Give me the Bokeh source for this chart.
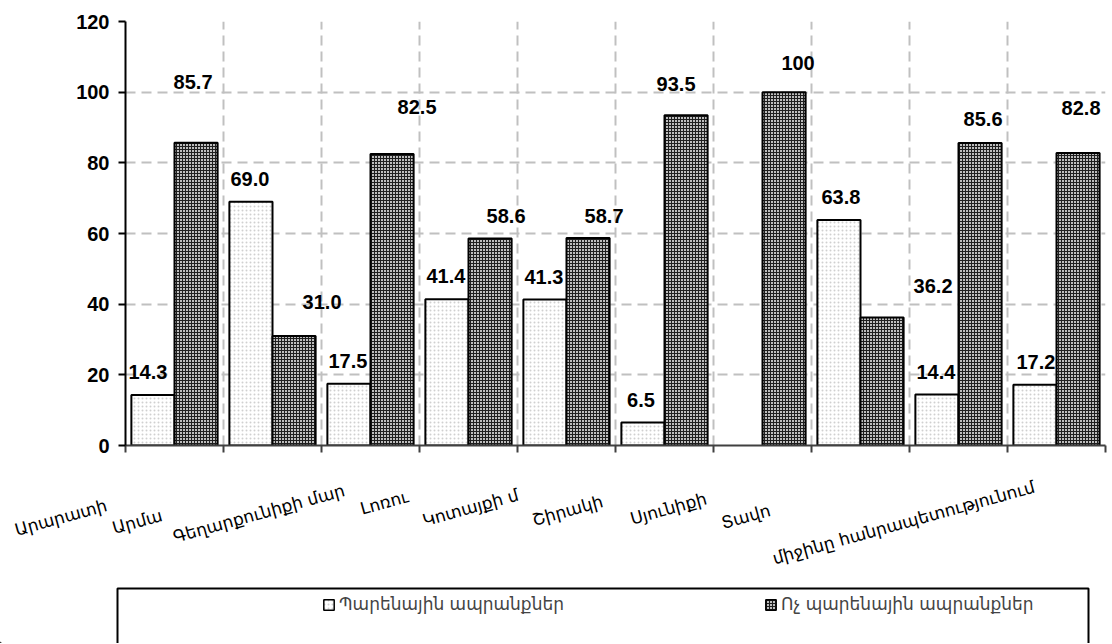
from bokeh.plotting import figure
from bokeh.models import (ColumnDataSource, FixedTicker, Legend, LegendItem, Range1d,
                          BoxAnnotation)
from bokeh.layouts import column
from bokeh.embed import file_html
from bokeh.resources import INLINE
from bokeh.core.properties import value

# ---------------- data ----------------
category_labels = ["Արարատի", "Արմա", "Գեղարքունիքի մար", "Լոռու", "Կոտայքի մ",
                   "Շիրակի", "Սյունիքի", "Տավո", "միջինը հանրապետությունում"]
series_names = ["Պարենային ապրանքներ", "Ոչ պարենային ապրանքներ"]
food = [14.3, 69.0, 17.5, 41.4, 41.3, 6.5, None, 63.8, 14.4, 17.2]
nonfood = [85.7, 31.0, 82.5, 58.6, 58.7, 93.5, 100, 36.2, 85.6, 82.8]
y_ticks = [0, 20, 40, 60, 80, 100, 120]

# ---------------- layout (positions / sizes only) ----------------
W = 1110
PX_LEFT, PX_RIGHT = 125, 1105          # plot frame edges on the page
H1 = 457                               # main figure height
H2 = 186                               # strip with category labels + legend box
n_slots = len(nonfood)
unit = (PX_RIGHT - PX_LEFT) / n_slots
slot_centers = [i + 0.5 for i in range(n_slots)]
dodge = 0.22
bar_w = 0.44
# category label placement: x in slot units, y = px below the strip top
cat_x = [-0.66, 0.12, 1.36, 2.64, 3.52, 4.51, 5.54, 6.33, 7.94]
cat_d = [60, 64, 56, 45, 50, 53, 51, 59, 65]
# value-label pixel offsets
food_dx = [-5, -1, -1, -1, -1, -2, 0, 2, -1, 1]
food_dy = [-23] * n_slots
nonfood_dx = [-3, 28, 25, 16, 16, -10, 14, 51, 3, 3]
nonfood_dy = [-61, -34, -47, -22, -22, -31, -29, -32, -24, -45]


def fmt(v):
    return "100" if v == 100 else f"{v:.1f}"


food_idx = [i for i, v in enumerate(food) if v is not None]
src_food = ColumnDataSource(dict(
    x=[slot_centers[i] - dodge for i in food_idx],
    top=[food[i] for i in food_idx],
    text=[fmt(food[i]) for i in food_idx],
    dx=[food_dx[i] for i in food_idx],
    dy=[food_dy[i] for i in food_idx],
))
src_nonfood = ColumnDataSource(dict(
    x=[c + dodge for c in slot_centers],
    top=nonfood,
    text=[fmt(v) for v in nonfood],
    dx=nonfood_dx,
    dy=nonfood_dy,
))

food_style = dict(fill_color="white", hatch_pattern="dot", hatch_color="#d0d0d0",
                  hatch_scale=4, hatch_weight=1, line_color="black")
nonfood_style = dict(fill_color="#bdbdbd", hatch_pattern="+", hatch_color="#1e1e1e",
                     hatch_scale=3, hatch_weight=1, line_color="black")

# ---------------- main chart ----------------
p = figure(width=W, height=H1, x_range=Range1d(0, n_slots), y_range=Range1d(0, 120),
           output_backend="svg", toolbar_location=None, frame_align=False,
           min_border_left=PX_LEFT, min_border_right=W - PX_RIGHT,
           min_border_top=21, min_border_bottom=12)
p.outline_line_color = None

p.vbar(x="x", top="top", width=bar_w, source=src_food, line_width=2, **food_style)
p.vbar(x="x", top="top", width=bar_w, source=src_nonfood, line_width=2, **nonfood_style)

for src in (src_food, src_nonfood):
    p.text(x="x", y="top", text="text", x_offset="dx", y_offset="dy", source=src,
           text_align="center", text_baseline="middle",
           text_font=value("Liberation Sans"), text_font_size="20px",
           text_font_style="bold", text_color="black")

# x axis: tick marks only at the slot boundaries (no tick labels)
p.xaxis.ticker = FixedTicker(ticks=[], minor_ticks=list(range(n_slots + 1)))
p.xaxis.axis_line_color = "#404040"
p.xaxis.axis_line_width = 2
p.xaxis.minor_tick_line_color = "#404040"
p.xaxis.minor_tick_line_width = 2
p.xaxis.minor_tick_in = 0
p.xaxis.minor_tick_out = 7
p.xgrid.ticker = FixedTicker(ticks=list(range(n_slots + 1)))

p.yaxis.ticker = FixedTicker(ticks=y_ticks)
p.yaxis.axis_line_color = "black"
p.yaxis.axis_line_width = 2
p.yaxis.major_tick_line_color = "black"
p.yaxis.major_tick_line_width = 2
p.yaxis.major_tick_in = 0
p.yaxis.major_tick_out = 7
p.yaxis.minor_tick_line_color = None
p.yaxis.major_label_text_font = "Liberation Sans"
p.yaxis.major_label_text_font_size = "20px"
p.yaxis.major_label_text_font_style = "bold"
p.yaxis.major_label_text_color = "black"
p.yaxis.major_label_standoff = 9

for g in (p.xgrid, p.ygrid):
    g.grid_line_color = "#c0c0c0"
    g.grid_line_width = 2
    g.grid_line_dash = "10 6"

# ---------------- category labels + legend box ----------------
bf = figure(width=W, height=H2,
            x_range=Range1d(-PX_LEFT / unit, (W - PX_LEFT) / unit),
            y_range=Range1d(0, H2),
            output_backend="svg", toolbar_location=None, frame_align=False,
            x_axis_location=None, y_axis_location=None, min_border=0)
bf.grid.visible = False
bf.outline_line_color = None

cat_src = ColumnDataSource(dict(x=cat_x, y=[H2 - d for d in cat_d], text=category_labels))
bf.text(x="x", y="y", text="text", source=cat_src, angle=0.27,
        text_align="center", text_baseline="middle",
        text_font=value("DejaVu Sans"), text_font_size="17px", text_color="black")

box_left_px, box_right_px, box_top_px = 117, 1088, 131
bf.add_layout(BoxAnnotation(left=(box_left_px - PX_LEFT) / unit,
                            right=(box_right_px - PX_LEFT) / unit,
                            top=H2 - box_top_px, bottom=-40,
                            fill_alpha=0, line_color="black", line_alpha=1,
                            line_width=2))

r1 = bf.vbar(x=[-100], top=[1], width=0.1, line_width=1.5, **food_style)
r2 = bf.vbar(x=[-100], top=[1], width=0.1, line_width=1.5, **nonfood_style)
legend = Legend(items=[LegendItem(label=series_names[0], renderers=[r1]),
                       LegendItem(label=series_names[1], renderers=[r2])],
                orientation="horizontal", location=(322, 29), spacing=200,
                padding=0, margin=0, border_line_color=None, background_fill_alpha=0,
                label_text_font="DejaVu Sans", label_text_font_size="17px",
                glyph_width=13, glyph_height=13, label_standoff=4, label_height=20)
bf.add_layout(legend)

layout = column(p, bf, spacing=0)
open("out.html", "w").write(file_html(layout, INLINE))
